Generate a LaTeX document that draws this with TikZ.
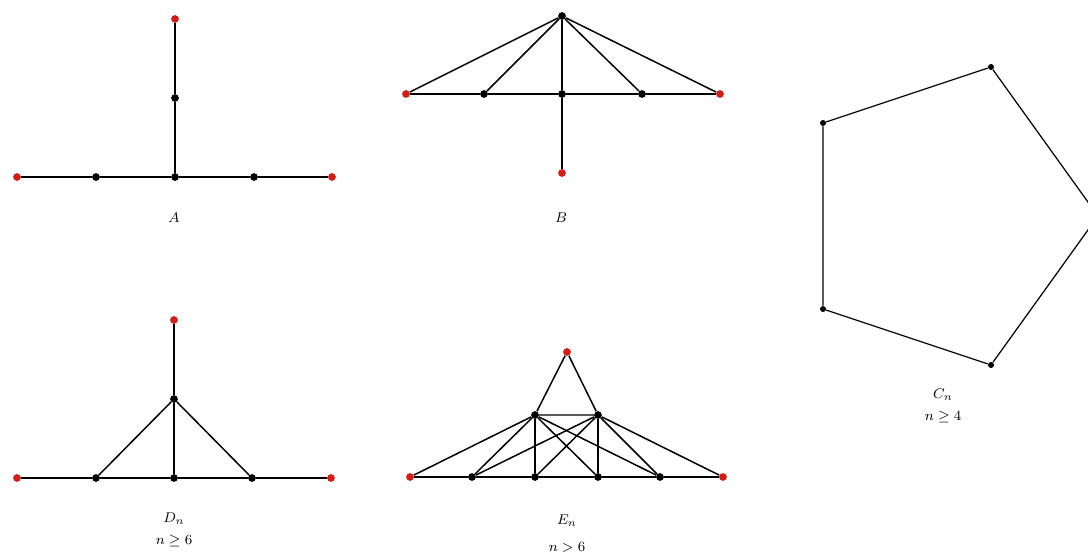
\documentclass[tikz,border=0pt]{standalone}
\usepackage{amsmath,amssymb}
\usepackage{xcolor}
\usepackage{tikz}
\usetikzlibrary{positioning}
\definecolor{leafred}{RGB}{214,28,22}

\begin{document}
\begin{tikzpicture}[
  x=0.02cm, y=-0.02cm,
  every node/.style={font=\fontsize{8.3}{10}\selectfont},
  vtx/.style={circle, fill=black, inner sep=0pt, minimum size=4.4pt},
  leaf/.style={vtx, fill=leafred},
  cvtx/.style={circle, fill=black, inner sep=0pt, minimum size=3.4pt},
  edge/.style={line width=0.85pt},
  cedge/.style={line width=0.7pt},
]
\clip (0,0) rectangle (1088,553);
\useasboundingbox (0,0) rectangle (1088,553);

% A
\node[leaf] (a0) at (175,19)  {};
\node[vtx]  (a1) at (175,98)  {};
\node[leaf] (a2) at (17,177)  {};
\node[vtx]  (a3) at (96,177)  {};
\node[vtx]  (a4) at (175,177) {};
\node[vtx]  (a5) at (254,177) {};
\node[leaf] (a6) at (332,177) {};
\node       (aname) at (174,218) {$A$};

\draw[edge] (a0) -- (a1) -- (a4);
\draw[edge] (a2) -- (a3) -- (a4) -- (a5) -- (a6);

% B
\node[vtx]  (b0) at (562,16)  {};
\node[leaf] (b1) at (406,94)  {};
\node[vtx]  (b2) at (484,94)  {};
\node[vtx]  (b3) at (562,94)  {};
\node[vtx]  (b4) at (642,94)  {};
\node[leaf] (b5) at (720,94)  {};
\node[leaf] (b6) at (562,173) {};
\node       (bname) at (561,218) {$B$};

\draw[edge] (b1) -- (b2) -- (b3) -- (b4) -- (b5);
\draw[edge] (b3) -- (b6);
\foreach \i in {1,...,5}
  \draw[edge] (b0) -- (b\i);

% D_n
\node[leaf] (d0) at (174,320) {};
\node[vtx]  (d1) at (174,399) {};
\node[leaf] (d2) at (17,478)  {};
\node[vtx]  (d3) at (96,478)  {};
\node[vtx]  (d4) at (174,478) {};
\node[vtx]  (d5) at (252,478) {};
\node[leaf] (d6) at (331,478) {};
\node       (dname) at (174,519) {$D_n$};
\node       (dcond) at (174,541) {$n \geq 6$};

\draw[edge] (d0) -- (d1);
\draw[edge] (d2) -- (d3) -- (d4) -- (d5) -- (d6);
\foreach \i in {3,4,5}
  \draw[edge] (d1) -- (d\i);

% E_n
\node[leaf] (e0) at (567,352) {};
\node[vtx]  (t1) at (535,415) {};
\node[vtx]  (t2) at (598,415) {};
\node[leaf] (e1) at (410,477) {};
\node[vtx]  (e2) at (472,477) {};
\node[vtx]  (e3) at (535,477) {};
\node[vtx]  (e4) at (598,477) {};
\node[vtx]  (e5) at (660,477) {};
\node[leaf] (e6) at (723,477) {};
\node       (ename) at (567,521) {$E_n$};
\node       (econd) at (567,547) {$n > 6$};

\draw[edge] (t1) -- (e0) -- (t2) -- (t1);
\draw[edge] (e1) -- (e2) -- (e3) -- (e4) -- (e5) -- (e6);
\foreach \i in {1,...,5}
  \draw[edge] (t1) -- (e\i);
\foreach \i in {2,...,6}
  \draw[edge] (t2) -- (e\i);

% C_n
\node[cvtx] (c1) at (991,67)   {};
\node[cvtx] (c2) at (823,123)  {};
\node[cvtx] (c3) at (823,309)  {};
\node[cvtx] (c4) at (991,365)  {};
\node[cvtx] (c5) at (1098,216) {};
\node       (cname) at (943,395) {$C_n$};
\node       (ccond) at (943,417) {$n \geq 4$};

\draw[cedge] (c1) -- (c2) -- (c3) -- (c4) -- (c5) -- (c1);
\end{tikzpicture}
\end{document}
